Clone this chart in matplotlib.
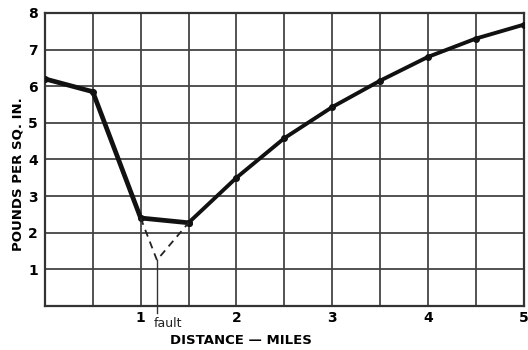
import matplotlib
matplotlib.use('Agg')
import matplotlib.pyplot as plt
import matplotlib.ticker as mticker

# main pressure profile
miles    = [0.0, 0.5, 1.0, 1.5, 2.0, 2.5, 3.0, 3.5, 4.0, 4.5, 5.0]
pressure = [6.2, 5.85, 2.4, 2.27, 3.5, 4.58, 5.43, 6.15, 6.8, 7.3, 7.68]

# dashed branch through the fault
fault_miles    = [1.0, 1.17, 1.5]
fault_pressure = [2.4, 1.25, 2.27]
fault_x = 1.17

ytick_vals = [1, 2, 3, 4, 5, 6, 7, 8]
xtick_vals = [1, 2, 3, 4, 5]

fig = plt.figure(figsize=[5.28, 3.5], dpi=100)
ax = fig.add_axes([0.085, 0.126, 0.907, 0.837])

ax.plot(miles[:4], pressure[:4], color='#111111', linewidth=3.4, marker='o', markersize=4,
        solid_joinstyle='miter', zorder=3)
ax.plot(miles[3:], pressure[3:], color='#111111', linewidth=2.8, marker='o', markersize=4,
        solid_joinstyle='miter', zorder=3)
ax.plot(fault_miles, fault_pressure, color='#222222', linewidth=1.3, linestyle=(0, (4, 3)), zorder=3)
ax.plot([fault_x, fault_x], [fault_pressure[1], -0.2], color='#333333', linewidth=1.0,
        clip_on=False, zorder=3)

ax.set_xlim(0, 5)
ax.set_ylim(0, 8)

ax.xaxis.set_major_locator(mticker.FixedLocator(xtick_vals))
ax.yaxis.set_major_locator(mticker.FixedLocator(ytick_vals))
ax.xaxis.set_minor_locator(mticker.MultipleLocator(0.5))
ax.grid(axis='both', which='both', color='#444444', linewidth=1.3)
ax.tick_params(which='both', length=0, labelsize=10, pad=4)
ax.tick_params(axis='y', pad=5)
for lab in ax.get_xticklabels() + ax.get_yticklabels():
    lab.set_fontweight('bold')

for s in ax.spines.values():
    s.set_color('#333333')
    s.set_linewidth(1.6)

ax.text(fault_x + 0.12, -0.3, 'fault', ha='center', va='top', fontsize=9, color='#222222')

ax.set_xlabel('DISTANCE \u2014 MILES', fontsize=9.5, fontweight='bold', labelpad=6, x=0.41)
ax.set_ylabel('POUNDS PER SQ. IN.', fontsize=9.5, fontweight='bold', labelpad=3, y=0.45)

fig.savefig('out.png', dpi=100)
